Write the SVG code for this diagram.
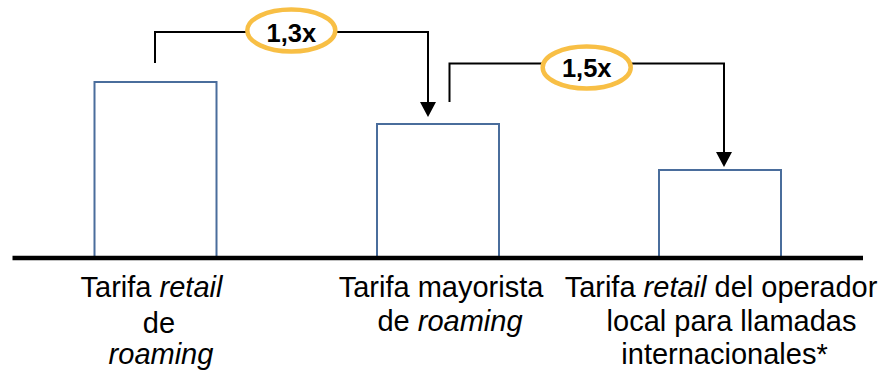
<svg xmlns="http://www.w3.org/2000/svg" width="883" height="375" viewBox="0 0 883 375">
  <style>
    .bar { fill: #ffffff; stroke: #4A6D9C; stroke-width: 2; }
    .conn { fill: none; stroke: #000000; stroke-width: 2; }
    .ratio { fill: #ffffff; stroke: #F8BF45; stroke-width: 4.5; }
    .rtxt { font-family: "Liberation Sans", Arial, sans-serif; font-weight: bold; font-size: 25.5px; fill: #000000; text-anchor: middle; }
    .lbl { font-family: "Liberation Sans", Arial, sans-serif; font-size: 29px; fill: #000000; text-anchor: middle; }
    .it { font-style: italic; }
  </style>
  <defs>
    <marker id="arrow" viewBox="0 0 15 16" refX="0" refY="8" markerWidth="15" markerHeight="16" markerUnits="userSpaceOnUse" orient="auto">
      <path d="M0,0 L15,8 L0,16 Z" fill="#000000"/>
    </marker>
  </defs>

  <g id="bar-retail-roaming">
    <rect class="bar" x="94.5" y="82" width="122" height="176"/>
    <text class="lbl" x="151.5" y="297">Tarifa <tspan class="it">retail</tspan></text>
    <text class="lbl" x="159" y="333">de</text>
    <text class="lbl it" x="161" y="364">roaming</text>
  </g>

  <g id="bar-mayorista">
    <rect class="bar" x="377" y="124" width="122" height="134"/>
    <text class="lbl" x="441" y="297">Tarifa mayorista</text>
    <text class="lbl" x="450" y="331">de <tspan class="it">roaming</tspan></text>
  </g>

  <g id="bar-local">
    <rect class="bar" x="659" y="170" width="122" height="88"/>
    <text class="lbl" x="721" y="297">Tarifa <tspan class="it">retail</tspan> del operador</text>
    <text class="lbl" x="731.5" y="331">local para llamadas</text>
    <text class="lbl" x="724.5" y="364">internacionales*</text>
  </g>

  <line id="axis" x1="12.5" y1="258" x2="863" y2="258" stroke="#000000" stroke-width="4.5"/>

  <g id="connectors">
    <path class="conn" d="M155,63 V32 H428 V102" marker-end="url(#arrow)"/>
    <path class="conn" d="M449.5,102 V63.5 H724 V152" marker-end="url(#arrow)"/>
  </g>

  <g id="ratio-1-3">
    <ellipse class="ratio" cx="291.3" cy="30.5" rx="44" ry="21"/>
    <text class="rtxt" x="291.3" y="41.5">1,3x</text>
  </g>

  <g id="ratio-1-5">
    <ellipse class="ratio" cx="586.7" cy="67.5" rx="44" ry="21"/>
    <text class="rtxt" x="586.7" y="76.5">1,5x</text>
  </g>
</svg>
